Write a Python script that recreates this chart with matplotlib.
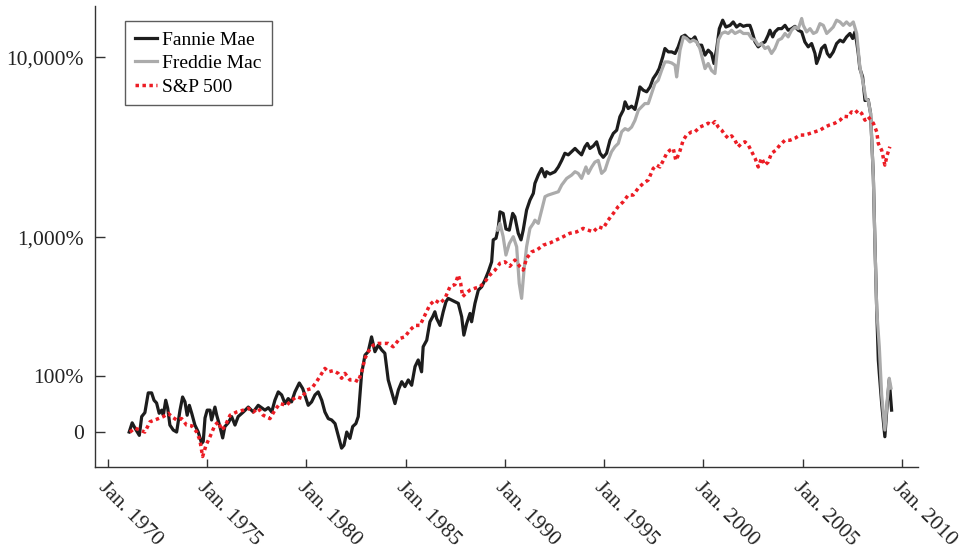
import matplotlib
matplotlib.use("Agg")
import matplotlib.pyplot as plt
import numpy as np

# ---------------- data (cumulative return, %) ----------------
fannie_dates = [1971.07, 1971.22, 1971.36, 1971.58, 1971.70, 1971.86, 1972.03, 1972.20, 1972.32, 1972.45,
                1972.58, 1972.71, 1972.79, 1972.91, 1973.01, 1973.12, 1973.29, 1973.46, 1973.63, 1973.76,
                1973.88, 1973.99, 1974.10, 1974.22, 1974.38, 1974.55, 1974.72, 1974.80, 1974.89, 1975.00,
                1975.14, 1975.22, 1975.39, 1975.48, 1975.64, 1975.78, 1975.89, 1976.06, 1976.23, 1976.40,
                1976.56, 1976.82, 1977.07, 1977.32, 1977.57, 1977.91, 1978.08, 1978.25, 1978.41, 1978.58,
                1978.75, 1978.92, 1979.08, 1979.25, 1979.42, 1979.64, 1979.81, 1979.92, 1980.09, 1980.26,
                1980.43, 1980.59, 1980.77, 1980.93, 1981.10, 1981.27, 1981.44, 1981.60, 1981.77, 1981.89,
                1982.03, 1982.19, 1982.33, 1982.49, 1982.61, 1982.78, 1982.95, 1983.11, 1983.28, 1983.45,
                1983.62, 1983.79, 1983.95, 1984.12, 1984.29, 1984.46, 1984.63, 1984.80, 1984.96, 1985.13,
                1985.30, 1985.47, 1985.63, 1985.80, 1985.88, 1986.06, 1986.22, 1986.36, 1986.47, 1986.56,
                1986.73, 1986.89, 1987.03, 1987.14, 1987.32, 1987.48, 1987.65, 1987.82, 1987.93, 1988.07,
                1988.24, 1988.32, 1988.49, 1988.66, 1988.83, 1988.99, 1989.16, 1989.33, 1989.41, 1989.55,
                1989.66, 1989.75, 1989.91, 1990.05, 1990.22, 1990.39, 1990.50, 1990.67, 1990.81, 1990.92,
                1991.09, 1991.26, 1991.43, 1991.51, 1991.68, 1991.85, 1992.02, 1992.10, 1992.27, 1992.52,
                1992.69, 1992.86, 1993.02, 1993.19, 1993.36, 1993.53, 1993.69, 1993.86, 1994.03, 1994.15,
                1994.28, 1994.45, 1994.62, 1994.79, 1994.95, 1995.12, 1995.29, 1995.46, 1995.63, 1995.79,
                1995.96, 1996.05, 1996.21, 1996.38, 1996.55, 1996.72, 1996.80, 1996.97, 1997.14, 1997.31,
                1997.47, 1997.64, 1997.77, 1997.95, 1998.06, 1998.23, 1998.40, 1998.57, 1998.73, 1998.90,
                1999.07, 1999.23, 1999.41, 1999.57, 1999.74, 1999.91, 2000.08, 2000.24, 2000.41, 2000.53,
                2000.67, 2000.80, 2000.97, 2001.13, 2001.34, 2001.50, 2001.67, 2001.84, 2002.01, 2002.18,
                2002.34, 2002.43, 2002.60, 2002.76, 2002.93, 2003.10, 2003.26, 2003.35, 2003.49, 2003.60,
                2003.77, 2003.94, 2004.11, 2004.27, 2004.44, 2004.61, 2004.78, 2004.95, 2005.11, 2005.28,
                2005.45, 2005.62, 2005.70, 2005.83, 2005.95, 2006.12, 2006.24, 2006.37, 2006.54, 2006.71,
                2006.88, 2007.04, 2007.21, 2007.38, 2007.52, 2007.63, 2007.72, 2007.80, 2007.88, 2008.02,
                2008.14, 2008.30, 2008.42, 2008.56, 2008.64, 2008.73, 2008.81, 2008.86, 2008.98, 2009.14,
                2009.26, 2009.36, 2009.48]
fannie_returns = [0, 12, 5, -4, 21, 27, 62, 62, 48, 43,
                  26, 31, 23, 48, 34, 9, 2.5, 0, 31, 54,
                  45, 23, 39, 26, 9, 0, -13, -11, 19, 31,
                  31, 16, 36, 23, 7, -7, 7, 12, 21, 9,
                  21, 28, 36, 28, 39, 31, 35, 28, 48, 64,
                  58, 42, 51, 45, 64, 83, 71, 58, 39, 45,
                  58, 64, 48, 28, 18, 16, 11, -4, -18, -15,
                  0, -7.5, 7, 11, 21, 106, 158, 169, 223, 169,
                  192, 175, 164, 90, 64, 42, 68, 86, 75, 90,
                  78, 124, 143, 110, 186, 210, 289, 314, 340, 305,
                  272, 340, 398, 419, 408, 398, 388, 314, 230, 280,
                  331, 289, 388, 475, 499, 550, 620, 714, 967, 989,
                  1129, 1407, 1378, 1120, 1103, 1378, 1318, 1057, 967, 1103,
                  1440, 1641, 1792, 2040, 2270, 2470, 2220, 2370, 2300, 2370,
                  2520, 2740, 3000, 2940, 3060, 3190, 3060, 2940, 3260, 3400,
                  3190, 3290, 3470, 3000, 2850, 3000, 3540, 3860, 4020, 4760,
                  5170, 5740, 5280, 5440, 5220, 6240, 6920, 6640, 6510, 6920,
                  7690, 8180, 8700, 10060, 11170, 10710, 10710, 10500, 11400, 12900,
                  13180, 12650, 12390, 12900, 11640, 11640, 10290, 10940, 10500, 9270,
                  11170, 14290, 15870, 14580, 14890, 15530, 14580, 15080, 14710, 14890,
                  14890, 14010, 12120, 11400, 11880, 12120, 13180, 14010, 12900, 13720,
                  14290, 14290, 14890, 14010, 14290, 14710, 14010, 13720, 12120, 11400,
                  11880, 10500, 9270, 10060, 11170, 11640, 10500, 10060, 10710, 11880,
                  12390, 12120, 12900, 13460, 12650, 13720, 12120, 10500, 8700, 7840,
                  5840, 5900, 4970, 2220, 920, 349, 143, 106, 42, -5.6,
                  42, 90, 31]

freddie_dates = [1989.62, 1989.75, 1989.91, 1990.05, 1990.22, 1990.42, 1990.59, 1990.72, 1990.84, 1990.96,
                 1991.09, 1991.26, 1991.43, 1991.51, 1991.68, 1991.85, 1992.02, 1992.18, 1992.44, 1992.69,
                 1992.86, 1993.11, 1993.36, 1993.53, 1993.69, 1993.86, 1994.08, 1994.20, 1994.37, 1994.53,
                 1994.70, 1994.87, 1995.04, 1995.20, 1995.37, 1995.54, 1995.71, 1995.88, 1996.05, 1996.21,
                 1996.38, 1996.55, 1996.72, 1996.89, 1997.05, 1997.22, 1997.39, 1997.56, 1997.72, 1997.89,
                 1998.06, 1998.23, 1998.40, 1998.57, 1998.65, 1998.82, 1998.99, 1999.15, 1999.32, 1999.49,
                 1999.66, 1999.82, 2000.08, 2000.24, 2000.41, 2000.58, 2000.75, 2000.92, 2001.09, 2001.25,
                 2001.42, 2001.59, 2001.84, 2002.01, 2002.26, 2002.43, 2002.60, 2002.76, 2002.93, 2003.10,
                 2003.26, 2003.43, 2003.60, 2003.77, 2003.94, 2004.11, 2004.27, 2004.44, 2004.61, 2004.78,
                 2004.95, 2005.03, 2005.20, 2005.37, 2005.54, 2005.70, 2005.87, 2006.04, 2006.21, 2006.38,
                 2006.54, 2006.71, 2006.88, 2007.04, 2007.21, 2007.38, 2007.55, 2007.72, 2007.88, 2008.05,
                 2008.19, 2008.30, 2008.42, 2008.56, 2008.64, 2008.73, 2008.86, 2008.98, 2009.14, 2009.26,
                 2009.36, 2009.45]
freddie_returns = [1103, 1207, 1010, 785, 920, 1010, 879, 524, 419, 633,
                   879, 1129, 1207, 1260, 1207, 1440, 1717, 1753, 1792, 1830,
                   1997, 2175, 2270, 2370, 2320, 2175, 2520, 2320, 2520, 2680,
                   2740, 2320, 2420, 2740, 3060, 3260, 3400, 3940, 4100, 4020,
                   4180, 4550, 5170, 5400, 5620, 5620, 6380, 7240, 7520, 8490,
                   9450, 9450, 9330, 9070, 7840, 10940, 12900, 12650, 12120, 12390,
                   12120, 11170, 8700, 9270, 8490, 8180, 12390, 13460, 13720, 13460,
                   14010, 13460, 13890, 13460, 13460, 12650, 12390, 11640, 11880, 11170,
                   11400, 10500, 11170, 12390, 12650, 13460, 12900, 14010, 14580, 14290,
                   16210, 14890, 13720, 14290, 13460, 13720, 15210, 14890, 13460, 14010,
                   14580, 15870, 15530, 14890, 15530, 14890, 15530, 13460, 8880, 7240,
                   5950, 5860, 4970, 2220, 920, 349, 186, 58, 2.5, 48,
                   94, 72]

sp500_dates = [1971.11, 1971.36, 1971.61, 1971.86, 1972.12, 1972.45, 1972.79, 1973.04, 1973.21, 1973.46,
               1973.71, 1973.96, 1974.22, 1974.47, 1974.63, 1974.77, 1974.94, 1975.14, 1975.39, 1975.56,
               1975.73, 1975.89, 1976.15, 1976.48, 1976.82, 1977.07, 1977.32, 1977.57, 1977.82, 1978.16,
               1978.41, 1978.66, 1979.00, 1979.25, 1979.51, 1979.76, 1980.01, 1980.26, 1980.51, 1980.77,
               1980.93, 1981.10, 1981.35, 1981.60, 1981.77, 1981.94, 1982.19, 1982.44, 1982.61, 1982.78,
               1982.95, 1983.11, 1983.37, 1983.62, 1983.87, 1984.12, 1984.37, 1984.71, 1984.96, 1985.21,
               1985.47, 1985.72, 1985.97, 1986.22, 1986.47, 1986.73, 1986.98, 1987.23, 1987.48, 1987.65,
               1987.77, 1987.87, 1988.04, 1988.24, 1988.49, 1988.74, 1988.99, 1989.24, 1989.50, 1989.75,
               1990.00, 1990.25, 1990.50, 1990.76, 1990.92, 1991.09, 1991.35, 1991.60, 1991.93, 1992.27,
               1992.60, 1992.94, 1993.27, 1993.61, 1993.94, 1994.20, 1994.45, 1994.70, 1994.95, 1995.20,
               1995.46, 1995.71, 1995.96, 1996.21, 1996.46, 1996.72, 1996.97, 1997.22, 1997.47, 1997.64,
               1997.81, 1997.98, 1998.15, 1998.31, 1998.48, 1998.61, 1998.78, 1998.98, 1999.15, 1999.41,
               1999.57, 1999.82, 2000.08, 2000.24, 2000.41, 2000.58, 2000.75, 2000.92, 2001.09, 2001.25,
               2001.42, 2001.59, 2001.75, 2001.92, 2002.09, 2002.26, 2002.43, 2002.60, 2002.76, 2002.93,
               2003.10, 2003.26, 2003.43, 2003.65, 2003.85, 2004.11, 2004.36, 2004.61, 2004.86, 2005.11,
               2005.36, 2005.62, 2005.87, 2006.12, 2006.37, 2006.62, 2006.88, 2007.08, 2007.29, 2007.46,
               2007.63, 2007.80, 2007.97, 2008.14, 2008.30, 2008.56, 2008.73, 2008.81, 2008.98, 2009.14,
               2009.26, 2009.39]
sp500_returns = [0, 5, 2.5, 0, 13.5, 17, 21, 26, 21, 16,
                 18, 9, 8, 0, -9.4, -26, -15, -5.6, 9, 13.5,
                 2.5, 7, 23, 28, 31, 34, 28, 34, 23, 18,
                 31, 42, 39, 48, 54.5, 51.5, 68, 71, 86, 106,
                 119, 110, 113, 106, 94, 106, 90, 90, 86, 110,
                 148, 169, 192, 198, 198, 198, 186, 217, 223, 251,
                 272, 272, 322, 380, 408, 388, 419, 499, 515, 592,
                 524, 430, 453, 475, 488, 499, 536, 592, 635, 700,
                 714, 671, 732, 666, 635, 750, 821, 840, 900, 927,
                 967, 1010, 1057, 1077, 1129, 1103, 1077, 1154, 1129, 1260,
                 1378, 1510, 1606, 1753, 1753, 1920, 2040, 2130, 2470, 2580,
                 2520, 2740, 3000, 3120, 3190, 2740, 3000, 3540, 3780, 3940,
                 3940, 4180, 4300, 4390, 4300, 4480, 4180, 4020, 3780, 3630,
                 3740, 3540, 3260, 3400, 3470, 3330, 3060, 2820, 2520, 2820,
                 2580, 2680, 3000, 3120, 3330, 3540, 3540, 3630, 3780, 3780,
                 3860, 3940, 4020, 4180, 4300, 4390, 4560, 4790, 4760, 5060,
                 4970, 5170, 4970, 4560, 4760, 4390, 3940, 3400, 3120, 2580,
                 2940, 3260]

y_tick_returns = [0, 100, 1000, 10000]
y_tick_labels = ["0", "100%", "1,000%", "10,000%"]
x_tick_years = [1970, 1975, 1980, 1985, 1990, 1995, 2000, 2005, 2010]
x_tick_labels = ["Jan. %d" % y for y in x_tick_years]

# ---------------- figure ----------------
plt.rcParams["font.family"] = ["Liberation Serif", "DejaVu Serif"]

fig = plt.figure(figsize=(9.65, 5.54), dpi=100)
ax = fig.add_axes([0.0984, 0.157, 0.8529, 0.832])

def growth(r):
    return 1.0 + np.asarray(r, dtype=float) / 100.0

ax.plot(fannie_dates, growth(fannie_returns), color="#1d1d1d", lw=2.3,
        label="Fannie Mae", zorder=2)
ax.plot(freddie_dates, growth(freddie_returns), color="#ababab", lw=2.3,
        label="Freddie Mac", zorder=3)
ax.plot(sp500_dates, growth(sp500_returns), color="#ec1c24", lw=2.5,
        linestyle=(0, (1.0, 1.0)), label="S&P 500", zorder=4)

ax.set_yscale("log")
ax.set_ylim(0.65, 190)
ax.set_xlim(1969.345, 2010.81)

ax.yaxis.set_major_locator(matplotlib.ticker.FixedLocator(growth(y_tick_returns)))
ax.yaxis.set_major_formatter(matplotlib.ticker.FixedFormatter(y_tick_labels))
ax.yaxis.set_minor_locator(matplotlib.ticker.NullLocator())
ax.set_xticks(x_tick_years)
ax.set_xticklabels(x_tick_labels, rotation=-45, ha="left", va="top",
                   rotation_mode="anchor")

for s in ["top", "right"]:
    ax.spines[s].set_visible(False)
for s in ["left", "bottom"]:
    ax.spines[s].set_linewidth(1.0)
    ax.spines[s].set_color("#333333")

ax.tick_params(axis="y", direction="in", length=7, width=1.0, color="#333333",
               labelsize=15.5, pad=8, labelcolor="#222222")
ax.tick_params(axis="x", direction="in", length=6, width=1.0, color="#333333",
               labelsize=15.5, pad=8, labelcolor="#222222")

handles, labels = ax.get_legend_handles_labels()
leg = ax.legend([handles[0], handles[1], handles[2]], [labels[0], labels[1], labels[2]],
                loc="upper left", bbox_to_anchor=(0.037, 0.967), fontsize=14,
                frameon=True, fancybox=False, edgecolor="#333333",
                handlelength=1.1, handletextpad=0.3, labelspacing=0.3,
                borderpad=0.5, borderaxespad=0)
leg.get_frame().set_linewidth(1.0)

fig.savefig("out.png", dpi=100)
